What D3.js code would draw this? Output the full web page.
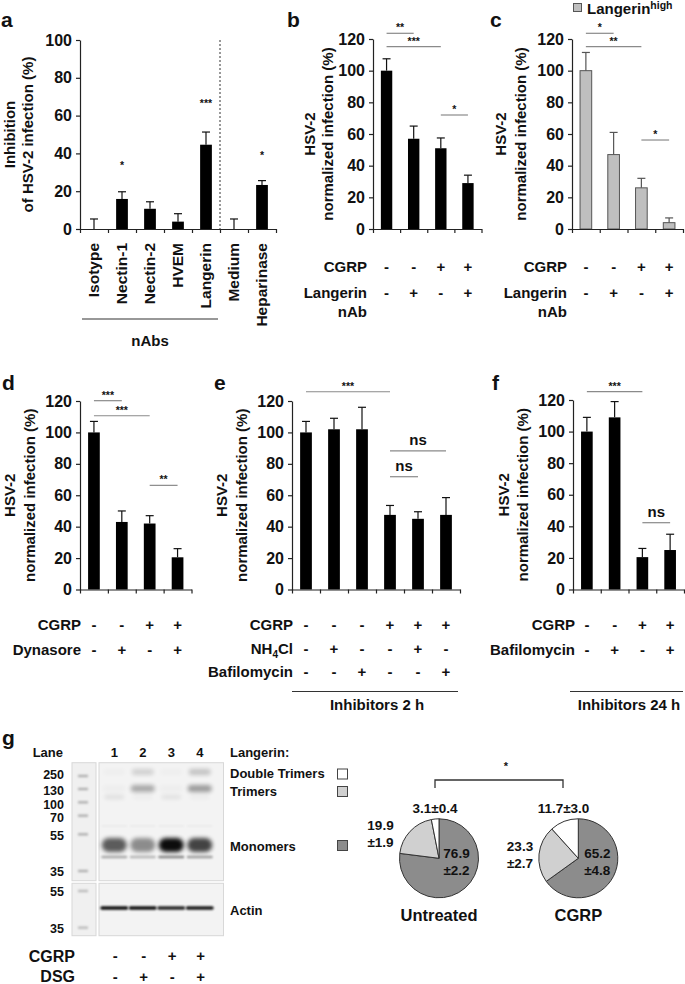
<!DOCTYPE html>
<html><head><meta charset="utf-8">
<script src="https://cdn.jsdelivr.net/npm/d3@7/dist/d3.min.js"></script>
<style>
body{margin:0;background:#fff;}
svg text{font-family:"Liberation Sans",Arial,Helvetica,sans-serif;font-weight:bold;fill:#111;}
</style></head><body>
<svg id="fig" width="685" height="984"></svg>
<script>
// ---------------- DATA ----------------
const aCategories = ["Isotype","Nectin-1","Nectin-2","HVEM","Langerin","Medium","Heparinase"];
const aValues = [0, 15.9, 10.7, 3.9, 44.6, 0, 23.3];
const aErrors = [5.3, 3.8, 3.7, 4.2, 6.7, 5.3, 2.3];
const aStars = ["", "*", "", "", "***", "", "*"];
const aStarLevel = [0, 34, 0, 0, 66.5, 0, 39];
const aTicks = [0, 20, 40, 60, 80, 100];

const normTicks = [0, 20, 40, 60, 80, 100, 120];

const bValues = [100, 57, 51, 29];
const bErrors = [7.5, 8, 6.5, 5];
const bCGRP = ["-", "-", "+", "+"];
const bNAb = ["-", "+", "-", "+"];
const bSig = [{from:0,to:1,level:123.6,label:"**"},{from:0,to:2,level:115.2,label:"***"},{from:2,to:3,level:72,label:"*"}];

const cValues = [100, 47, 26, 4];
const cErrors = [11.5, 14, 6, 3];
const cCGRP = ["-", "-", "+", "+"];
const cNAb = ["-", "+", "-", "+"];
const cSig = [{from:0,to:1,level:123.6,label:"*"},{from:0,to:2,level:115.2,label:"**"},{from:2,to:3,level:56.2,label:"*"}];

const dValues = [100, 43, 42, 20.5];
const dErrors = [7, 7, 5, 5.5];
const dCGRP = ["-", "-", "+", "+"];
const dDynasore = ["-", "+", "-", "+"];
const dSig = [{from:0,to:1,level:120.2,label:"***"},{from:0,to:2,level:110.6,label:"***"},{from:2,to:3,level:66.3,label:"**"}];

const eValues = [100, 102, 102, 47.5, 45, 47.5];
const eErrors = [7, 7, 14, 6, 4.5, 11];
const eCGRP = ["-", "-", "-", "+", "+", "+"];
const eNH4Cl = ["-", "+", "-", "-", "+", "-"];
const eBafilomycin = ["-", "-", "+", "-", "-", "+"];
const eSig = [{from:0,to:3,level:125.9,label:"***"},{from:3,to:5,level:88.3,label:"ns"},{from:3,to:4,level:71.8,label:"ns"}];

const fValues = [100, 109, 20.5, 25];
const fErrors = [9, 10, 5.5, 10];
const fCGRP = ["-", "-", "+", "+"];
const fBafilomycin = ["-", "+", "-", "+"];
const fSig = [{from:0,to:2,level:125.3,label:"***"},{from:2,to:3,level:42.3,label:"ns"}];

const gLanes = ["1", "2", "3", "4"];
const gCGRP = ["-", "-", "+", "+"];
const gDSG = ["-", "+", "-", "+"];
const ladderMW = [250, 130, 100, 70, 55, 35];
const actinLadderMW = [55, 35];
const monomerBand = [0.62, 0.42, 0.95, 0.72];
const monomerLowerBand = [0.3, 0.25, 0.45, 0.35];
const trimerBand = [0.02, 0.3, 0.02, 0.36];
const trimerLowerBand = [0.09, 0.03, 0.08, 0.03];
const doubleTrimerBand = [0.02, 0.14, 0.02, 0.2];
const actinBand = [0.95, 0.95, 0.85, 0.9];

const pieForms = ["Monomers", "Trimers", "Double Trimers"];
const pieUntreated = [76.9, 19.9, 3.1];
const pieCGRP = [65.2, 23.3, 11.7];
const pieLabelsUntreated = [["76.9", "±2.2"], ["19.9", "±1.9"], ["3.1±0.4"]];
const pieLabelsCGRP = [["65.2", "±4.8"], ["23.3", "±2.7"], ["11.7±3.0"]];

// ---------------- DRAW ----------------
const svg = d3.select("#fig");
const FS = 15;

function styleAxis(g, fs) {
  g.select(".domain").attr("stroke", "#222").attr("stroke-width", 1.2);
  g.selectAll(".tick line").attr("stroke", "#222").attr("stroke-width", 1.2);
  g.selectAll(".tick text").attr("font-size", fs).attr("fill", "#111")
    .style("font-family", '"Liberation Sans",Arial,sans-serif').style("font-weight", "bold");
}

function barPanel(o) {
  const n = o.values.length;
  const x = d3.scaleBand().domain(d3.range(n)).range([o.x0, o.x1]).paddingInner(0).paddingOuter(0);
  const xl = d3.scaleLinear().domain([0, n]).range([o.x0, o.x1]);
  const y = d3.scaleLinear().domain([0, o.yMax]).range([o.yBottom, o.yTop]);
  const g = svg.append("g");
  const bw = x.bandwidth() * 0.42;
  const cx = i => x(i) + x.bandwidth() / 2;
  g.selectAll("rect.bar").data(o.values).join("rect")
    .attr("x", (d, i) => cx(i) - bw / 2).attr("width", bw)
    .attr("y", d => y(d)).attr("height", d => y(0) - y(d))
    .attr("fill", o.fill).attr("stroke", o.stroke || "none").attr("stroke-width", o.stroke ? 1 : 0);
  const ec = o.errColor || "#111";
  g.selectAll("line.err").data(o.values).join("line")
    .attr("x1", (d, i) => cx(i)).attr("x2", (d, i) => cx(i))
    .attr("y1", d => y(d)).attr("y2", (d, i) => y(d + o.errors[i]))
    .attr("stroke", ec).attr("stroke-width", 1.2);
  g.selectAll("line.cap").data(o.values).join("line")
    .attr("x1", (d, i) => cx(i) - 4).attr("x2", (d, i) => cx(i) + 4)
    .attr("y1", (d, i) => y(d + o.errors[i])).attr("y2", (d, i) => y(d + o.errors[i]))
    .attr("stroke", ec).attr("stroke-width", 1.2);
  const ya = g.append("g").attr("transform", `translate(${o.x0},0)`)
    .call(d3.axisLeft(y).tickValues(o.ticks).tickSizeInner(4).tickSizeOuter(0).tickPadding(4));
  styleAxis(ya, o.tickFs || 16);
  const xa = g.append("g").attr("transform", `translate(0,${o.yBottom})`)
    .call(d3.axisBottom(xl).tickValues(d3.range(n + 1)).tickFormat("").tickSizeInner(4).tickSizeOuter(0));
  styleAxis(xa, 10);
  o.title.forEach((t, k) => {
    g.append("text").attr("transform", `translate(${o.titleX[k]},${(o.yTop + o.yBottom) / 2}) rotate(-90)`)
      .attr("text-anchor", "middle").attr("dy", "0.35em").attr("font-size", o.titleFs || FS).text(t);
  });
  g.append("text").attr("x", o.letterX).attr("y", o.letterY).attr("font-size", 21).text(o.letter);
  (o.sig || []).forEach(s => {
    const yy = y(s.level);
    g.append("line").attr("x1", cx(s.from)).attr("x2", cx(s.to)).attr("y1", yy).attr("y2", yy)
      .attr("stroke", "#8a8a8a").attr("stroke-width", 1.2);
    const isNs = s.label === "ns";
    g.append("text").attr("x", (cx(s.from) + cx(s.to)) / 2).attr("y", isNs ? yy - 6 : yy - 2)
      .attr("text-anchor", "middle").attr("font-size", isNs ? 15 : 10.5).attr("fill", "#333").text(s.label);
  });
  (o.rows || []).forEach(r => {
    g.append("text").attr("x", o.rowLabelX).attr("y", r.y).attr("text-anchor", "end")
      .attr("font-size", FS).attr("dy", "0.35em").html(r.label);
    if (r.label2) g.append("text").attr("x", o.rowLabelX).attr("y", r.y2).attr("text-anchor", "end")
      .attr("font-size", FS).attr("dy", "0.35em").text(r.label2);
    g.selectAll(null).data(r.signs).join("text")
      .attr("x", (d, i) => cx(i)).attr("y", r.y).attr("dy", "0.35em").attr("text-anchor", "middle")
      .attr("font-size", FS).text(d => d);
  });
  return { x, y, cx, g };
}

// Panel a
const pa = barPanel({
  x0: 80, x1: 276, yTop: 40, yBottom: 229, yMax: 100, ticks: aTicks,
  values: aValues, errors: aErrors, fill: "#000",
  title: ["Inhibition", "of HSV-2 infection (%)"], titleX: [10, 28],
  letter: "a", letterX: 1, letterY: 27
});
aCategories.forEach((c, i) => {
  pa.g.append("text").attr("transform", `translate(${pa.cx(i)},243) rotate(-90)`)
    .attr("text-anchor", "end").attr("dy", "0.35em").attr("font-size", 15.5).text(c);
  if (aStars[i]) pa.g.append("text").attr("x", pa.cx(i)).attr("y", pa.y(aStarLevel[i]) + 4)
    .attr("text-anchor", "middle").attr("font-size", 10.5).attr("fill", "#333").text(aStars[i]);
});
pa.g.append("line").attr("x1", pa.x(5)).attr("x2", pa.x(5)).attr("y1", pa.y(100)).attr("y2", pa.y(0))
  .attr("stroke", "#333").attr("stroke-width", 1).attr("stroke-dasharray", "2,2");
pa.g.append("line").attr("x1", pa.x(0) + 2).attr("x2", pa.x(5) - 2).attr("y1", 319).attr("y2", 319)
  .attr("stroke", "#333").attr("stroke-width", 1.2);
pa.g.append("text").attr("x", (pa.x(0) + pa.x(5)) / 2).attr("y", 341).attr("dy", "0.35em")
  .attr("text-anchor", "middle").attr("font-size", FS).text("nAbs");

// Panel b
barPanel({
  x0: 373, x1: 481.5, yTop: 39, yBottom: 229, yMax: 120, ticks: normTicks,
  values: bValues, errors: bErrors, fill: "#000", sig: bSig,
  title: ["HSV-2", "normalized infection (%)"], titleX: [310, 328],
  letter: "b", letterX: 287, letterY: 27, rowLabelX: 367,
  rows: [{ label: "CGRP", y: 266.7, signs: bCGRP }, { label: "Langerin", label2: "nAb", y: 292.7, y2: 311.7, signs: bNAb }]
});

// Panel c
barPanel({
  x0: 572, x1: 683, yTop: 39, yBottom: 229, yMax: 120, ticks: normTicks,
  values: cValues, errors: cErrors, fill: "#bfbfbf", stroke: "#555", errColor: "#555", sig: cSig,
  title: ["HSV-2", "normalized infection (%)"], titleX: [501, 521],
  letter: "c", letterX: 490, letterY: 27, rowLabelX: 567,
  rows: [{ label: "CGRP", y: 266.7, signs: cCGRP }, { label: "Langerin", label2: "nAb", y: 292.7, y2: 311.7, signs: cNAb }]
});
svg.append("rect").attr("x", 573.5).attr("y", 3.5).attr("width", 8).attr("height", 8)
  .attr("fill", "#bfbfbf").attr("stroke", "#555").attr("stroke-width", 1);
const lg = svg.append("text").attr("x", 587).attr("y", 13.5).attr("font-size", 15);
lg.append("tspan").text("Langerin");
lg.append("tspan").attr("font-size", 10.5).attr("dy", -5).text("high");

// Panel d
barPanel({
  x0: 80, x1: 191.5, yTop: 401, yBottom: 589.5, yMax: 120, ticks: normTicks,
  values: dValues, errors: dErrors, fill: "#000", sig: dSig,
  title: ["HSV-2", "normalized infection (%)"], titleX: [10, 30],
  letter: "d", letterX: 2, letterY: 390, rowLabelX: 81,
  rows: [{ label: "CGRP", y: 625, signs: dCGRP }, { label: "Dynasore", y: 649.3, signs: dDynasore }]
});

// Panel e
const pe = barPanel({
  x0: 292, x1: 460, yTop: 401, yBottom: 589.5, yMax: 120, ticks: normTicks,
  values: eValues, errors: eErrors, fill: "#000", sig: eSig,
  title: ["HSV-2", "normalized infection (%)"], titleX: [222, 242],
  letter: "e", letterX: 214, letterY: 390, rowLabelX: 293,
  rows: [{ label: "CGRP", y: 624.3, signs: eCGRP }, { label: "NH<tspan font-size='10' dy='4'>4</tspan><tspan dy='-4'>Cl</tspan>", y: 648.3, signs: eNH4Cl },
         { label: "Bafilomycin", y: 671.7, signs: eBafilomycin }]
});
pe.g.append("line").attr("x1", 292).attr("x2", 458).attr("y1", 691.5).attr("y2", 691.5).attr("stroke", "#333").attr("stroke-width", 1.2);
pe.g.append("text").attr("x", 377).attr("y", 705).attr("dy", "0.35em").attr("text-anchor", "middle").attr("font-size", FS).text("Inhibitors 2 h");

// Panel f
const pf = barPanel({
  x0: 573, x1: 684, yTop: 400, yBottom: 589.5, yMax: 120, ticks: normTicks,
  values: fValues, errors: fErrors, fill: "#000", sig: fSig,
  title: ["HSV-2", "normalized infection (%)"], titleX: [504, 523],
  letter: "f", letterX: 492, letterY: 390, rowLabelX: 575,
  rows: [{ label: "CGRP", y: 624.3, signs: fCGRP }, { label: "Bafilomycin", y: 649.3, signs: fBafilomycin }]
});
pf.g.append("line").attr("x1", 570).attr("x2", 683).attr("y1", 691.5).attr("y2", 691.5).attr("stroke", "#333").attr("stroke-width", 1.2);
pf.g.append("text").attr("x", 629).attr("y", 705).attr("dy", "0.35em").attr("text-anchor", "middle").attr("font-size", FS).text("Inhibitors 24 h");

// ---------------- Panel g: blot ----------------
const gg = svg.append("g");
const defs = svg.append("defs");
defs.append("filter").attr("id", "blur").attr("x", "-50%").attr("y", "-150%").attr("width", "200%").attr("height", "400%")
  .append("feGaussianBlur").attr("stdDeviation", 2.1);
defs.append("filter").attr("id", "blur2").attr("x", "-50%").attr("y", "-150%").attr("width", "200%").attr("height", "400%")
  .append("feGaussianBlur").attr("stdDeviation", 0.9);

gg.append("text").attr("x", 2).attr("y", 745).attr("font-size", 21).text("g");
gg.append("text").attr("x", 63).attr("y", 752).attr("dy", "0.35em").attr("text-anchor", "end").attr("font-size", 13).text("Lane");
const laneX = d3.scaleBand().domain(d3.range(4)).range([100, 214]);
const lc = i => laneX(i) + laneX.bandwidth() / 2;
gg.selectAll(null).data(gLanes).join("text").attr("x", (d, i) => lc(i)).attr("y", 752).attr("dy", "0.35em")
  .attr("text-anchor", "middle").attr("font-size", 13).text(d => d);
gg.append("text").attr("x", 230).attr("y", 752).attr("dy", "0.35em").attr("font-size", 13).text("Langerin:");

const mwY = d3.scaleLinear().domain(ladderMW).range([776, 789, 802.3, 815.7, 834.3, 871]);
const mwYActin = d3.scaleLinear().domain(actinLadderMW).range([891, 927.7]);
const mwLabelOffset = [-1, 1.7, 2.7, 2, 1.4, 0.7];

[[762.7, 880.7], [883.3, 935.7]].forEach(([y0, y1]) => {
  gg.append("rect").attr("x", 72).attr("y", y0).attr("width", 24).attr("height", y1 - y0)
    .attr("fill", "#f0f0f0").attr("stroke", "#d8d8d8").attr("stroke-width", 1);
  gg.append("rect").attr("x", 99).attr("y", y0).attr("width", 124.5).attr("height", y1 - y0)
    .attr("fill", "#f3f3f3").attr("stroke", "#d8d8d8").attr("stroke-width", 1);
});
gg.selectAll(null).data(ladderMW).join("rect").attr("x", 78).attr("width", 10).attr("y", d => mwY(d) - 1.2).attr("height", 2.4)
  .attr("fill", "#b0b0b0").attr("filter", "url(#blur2)");
gg.selectAll(null).data(actinLadderMW).join("rect").attr("x", 78).attr("width", 10).attr("y", d => mwYActin(d) - 1.2).attr("height", 2.4)
  .attr("fill", "#bbbbbb").attr("filter", "url(#blur2)");
gg.selectAll(null).data(ladderMW).join("text").attr("x", 64).attr("y", (d, i) => mwY(d) + mwLabelOffset[i]).attr("dy", "0.35em")
  .attr("text-anchor", "end").attr("font-size", 12.5).text(d => d);
gg.selectAll(null).data(actinLadderMW).join("text").attr("x", 64).attr("y", d => mwYActin(d) + 0.7).attr("dy", "0.35em")
  .attr("text-anchor", "end").attr("font-size", 12.5).text(d => d);

function bands(arr, yc, h, w, filt) {
  gg.selectAll(null).data(arr).join("rect")
    .attr("x", (d, i) => lc(i) - w / 2).attr("width", w).attr("y", yc - h / 2).attr("height", h)
    .attr("rx", h / 2).attr("fill", "#000").attr("opacity", d => d).attr("filter", filt || "url(#blur)");
}
bands(doubleTrimerBand, 772, 6, 22);
bands(trimerBand, 788.5, 7, 24);
bands(trimerLowerBand, 797, 4, 20);
bands(monomerBand.map(() => 0.07), 826, 1.2, 26, "url(#blur2)");
bands(monomerBand, 845, 14, 25);
bands(monomerLowerBand, 857, 2.5, 26, "url(#blur2)");
bands(actinBand, 908, 3.5, 28, "url(#blur2)");

const formLabelY = [773.3, 791.7, 846];
["Double Trimers", "Trimers", "Monomers"].forEach((t, i) => {
  gg.append("text").attr("x", 230).attr("y", formLabelY[i]).attr("dy", "0.35em").attr("font-size", 13).text(t);
});
gg.append("text").attr("x", 230).attr("y", 910.7).attr("dy", "0.35em").attr("font-size", 13).text("Actin");
const formColor = ["#ffffff", "#d0d0d0", "#8c8c8c"];
const squareY = [774, 791.5, 845.5];
formColor.forEach((c, i) => {
  gg.append("rect").attr("x", 337.5).attr("y", squareY[i] - 5).attr("width", 10).attr("height", 10)
    .attr("fill", c).attr("stroke", "#444").attr("stroke-width", 1);
});
[["CGRP", 956, gCGRP], ["DSG", 976.7, gDSG]].forEach(([lab, yy, signs]) => {
  gg.append("text").attr("x", 75).attr("y", yy).attr("dy", "0.35em").attr("text-anchor", "end").attr("font-size", 16).text(lab);
  gg.selectAll(null).data(signs).join("text").attr("x", (d, i) => lc(i) + 1).attr("y", yy).attr("dy", "0.35em")
    .attr("text-anchor", "middle").attr("font-size", 15).text(d => d);
});

// ---------------- Pies ----------------
const pie = d3.pie().sort(null).value(d => d);
const arc = d3.arc().innerRadius(0).outerRadius(39.5);
const pieColor = ["#8c8c8c", "#d0d0d0", "#ffffff"];
function drawPie(cx, cy, vals, labels, offsets, name) {
  const pg = svg.append("g").attr("transform", `translate(${cx},${cy})`);
  pg.selectAll("path").data(pie(vals)).join("path").attr("d", arc)
    .attr("fill", (d, i) => pieColor[i]).attr("stroke", "#333").attr("stroke-width", 1);
  labels.forEach((lines, i) => {
    lines.forEach((t, k) => {
      pg.append("text").attr("x", offsets[i][0]).attr("y", offsets[i][1] + k * 16.5).attr("dy", "0.35em")
        .attr("text-anchor", "middle").attr("font-size", 13.5).text(t);
    });
  });
  pg.append("text").attr("x", 0).attr("y", 57).attr("dy", "0.35em").attr("text-anchor", "middle").attr("font-size", 16.5).text(name);
}
drawPie(439, 858.3, pieUntreated, pieLabelsUntreated, [[17.5, -5], [-58.5, -33], [-4, -50]], "Untreated");
drawPie(578.3, 858.3, pieCGRP, pieLabelsCGRP, [[19, -5], [-58.3, -12], [-14.8, -50]], "CGRP");
svg.append("path").attr("d", "M435,788 V780 H563 V788").attr("fill", "none").attr("stroke", "#333").attr("stroke-width", 1.3);
svg.append("text").attr("x", 506).attr("y", 770).attr("text-anchor", "middle").attr("font-size", 11).attr("fill", "#333").text("*");
</script>
</body></html>
